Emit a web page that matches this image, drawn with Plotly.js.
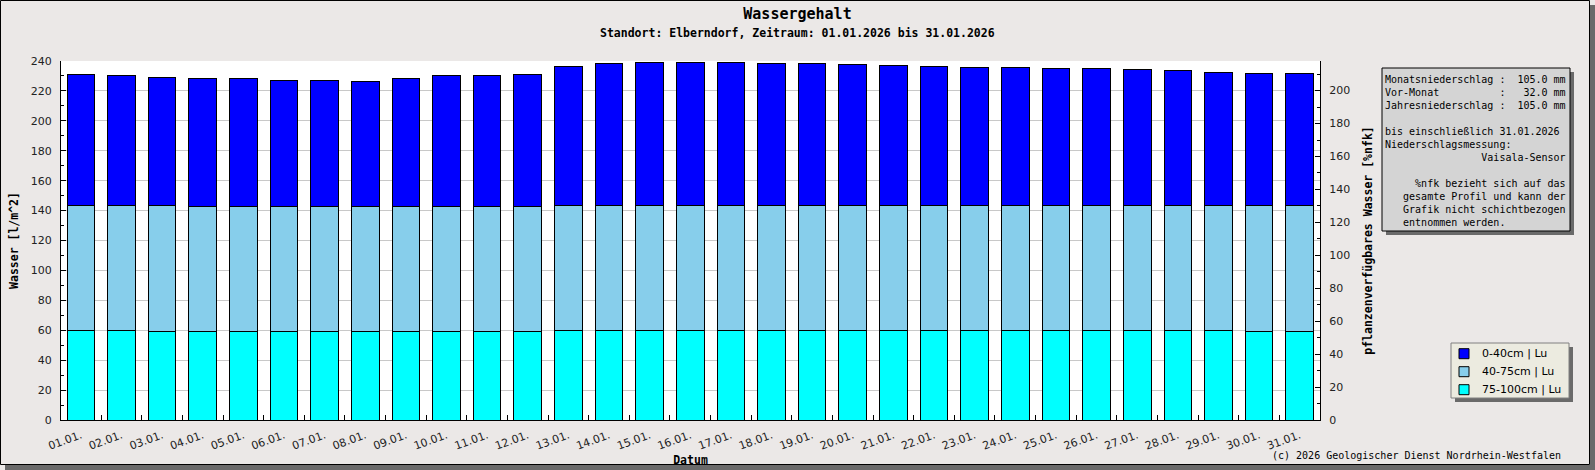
<!DOCTYPE html>
<html>
<head>
<meta charset="utf-8">
<script src="https://cdn.plot.ly/plotly-3.0.1.min.js"></script>
<style>
  html, body { margin: 0; padding: 0; background: #ebe8e7; }
  #chart { width: 1595px; height: 470px; }
</style>
</head>
<body>
<div id="chart"></div>
<script>
const dates = [
    '01.01.', '02.01.', '03.01.', '04.01.', '05.01.', '06.01.', '07.01.', '08.01.',
    '09.01.', '10.01.', '11.01.', '12.01.', '13.01.', '14.01.', '15.01.', '16.01.',
    '17.01.', '18.01.', '19.01.', '20.01.', '21.01.', '22.01.', '23.01.', '24.01.',
    '25.01.', '26.01.', '27.01.', '28.01.', '29.01.', '30.01.', '31.01.'
];

// water per layer in l/m^2 (stacked bottom -> top)
const water75to100 = [
    60.0, 60.0, 59.3, 59.3, 59.3, 59.3, 59.3, 59.3, 59.3, 59.3, 59.3, 59.3,
    60.0, 60.0, 60.0, 60.0, 60.0, 60.0, 60.0, 60.0, 60.0, 60.0, 60.0, 60.0,
    60.0, 60.0, 60.0, 60.0, 60.0, 59.4, 59.4
];
const water40to75 = [
    83.4, 83.4, 84.1, 83.5, 83.5, 83.5, 83.5, 83.5, 83.5, 83.5, 83.5, 83.5,
    83.4, 83.4, 83.4, 83.4, 83.4, 83.4, 83.4, 83.4, 83.4, 83.4, 83.4, 83.4,
    83.4, 83.4, 83.4, 83.4, 83.4, 84.0, 84.0
];
const water0to40 = [
    87.3, 86.6, 85.9, 85.2, 85.2, 84.5, 84.5, 83.8, 85.2, 87.2, 87.2, 87.9,
    92.8, 94.8, 95.5, 95.5, 95.5, 94.8, 94.8, 94.1, 93.5, 92.8, 92.1, 92.1,
    91.4, 91.4, 90.7, 90.0, 88.7, 88.0, 88.0
];

const layerNames = ['0-40cm | Lu', '40-75cm | Lu', '75-100cm | Lu'];
const layerColors = ['#0000ff', '#87ceeb', '#00ffff'];

const infoLines = [
    'Monatsniederschlag :  105.0 mm',
    'Vor-Monat          :   32.0 mm',
    'Jahresniederschlag :  105.0 mm',
    '',
    'bis einschließlich 31.01.2026',
    'Niederschlagsmessung:',
    '                Vaisala-Sensor',
    '',
    '     %nfk bezieht sich auf das',
    '   gesamte Profil und kann der',
    '   Grafik nicht schichtbezogen',
    '   entnommen werden.'
];

const MONO = 'DejaVu Sans Mono';
const SANS = 'DejaVu Sans';

// plot area in pixels
const W = 1595, H = 470;
const PL = 61, PR = 1320, PT = 61, PB = 420;

function px(x) { return (x - PL) / (PR - PL); }
function py(y) { return (PB - y) / (PB - PT); }

function box(x0, y0, x1, y1, fill, line) {
    return {
        type: 'rect', xref: 'paper', yref: 'paper',
        x0: px(x0), x1: px(x1), y0: py(y0), y1: py(y1),
        fillcolor: fill,
        line: line ? { color: line, width: 1 } : { width: 0 },
        layer: 'above'
    };
}

function nbsp(s) { return s.replace(/ /g, '\u00a0'); }

const traces = [
    { y: water75to100, name: layerNames[2], color: layerColors[2] },
    { y: water40to75, name: layerNames[1], color: layerColors[1] },
    { y: water0to40, name: layerNames[0], color: layerColors[0] }
].map(t => ({
    x: dates,
    y: t.y,
    type: 'bar',
    name: t.name,
    marker: { color: t.color, line: { color: '#000', width: 1 } },
    hoverinfo: 'x+y+name'
}));

// empty helper so the %nfk axis on the right gets drawn
traces.push({
    x: [dates[0]],
    y: [null],
    yaxis: 'y2',
    type: 'scatter',
    mode: 'markers',
    showlegend: false,
    hoverinfo: 'skip'
});

const shapes = [
    // outer frame + shadow
    box(1590, 5, 1595, 470, '#6a6a6a'),
    box(5, 465, 1595, 470, '#6a6a6a'),
    box(0.5, 0.5, 1589.5, 464.5, 'rgba(0,0,0,0)', '#000'),
    // info box
    box(1386, 72, 1574, 235, '#6a6a6a'),
    box(1382, 68, 1570, 231, '#d4d4d4', '#000'),
    // legend box
    box(1455, 347, 1573, 402, '#6a6a6a'),
    box(1451, 343, 1569, 398, '#ecebe0', '#808080')
];

const annotations = [
    {
        text: '<b>Standort: Elberndorf, Zeitraum: 01.01.2026 bis 31.01.2026</b>',
        xref: 'paper', yref: 'paper', x: px(797.5), y: py(33),
        xanchor: 'center', yanchor: 'middle', showarrow: false,
        font: { family: MONO, size: 11.5, color: '#000' }
    },
    {
        text: infoLines.map(nbsp).join('<br>'),
        xref: 'paper', yref: 'paper', x: px(1383), y: py(72),
        xanchor: 'left', yanchor: 'top', align: 'left', showarrow: false,
        font: { family: MONO, size: 10, color: '#000' }
    },
    {
        text: nbsp('(c) 2026 Geologischer Dienst Nordrhein-Westfalen'),
        xref: 'paper', yref: 'paper', x: px(1563), y: py(455),
        xanchor: 'right', yanchor: 'middle', showarrow: false,
        font: { family: MONO, size: 10, color: '#000' }
    }
];

// custom legend
for (let i = 0; i < layerNames.length; i++) {
    const cy = 353.7 + i * 18;
    shapes.push(box(1459, cy - 5, 1469, cy + 5, layerColors[i], '#000'));
    annotations.push({
        text: layerNames[i],
        xref: 'paper', yref: 'paper', x: px(1480), y: py(cy),
        xanchor: 'left', yanchor: 'middle', showarrow: false,
        font: { family: SANS, size: 11, color: '#000' }
    });
}

const tickFont = { family: SANS, size: 11, color: '#222' };
const titleFont = { family: MONO, size: 11.5, color: '#000', weight: 'bold' };

const layout = {
    width: W,
    height: H,
    margin: { l: PL, r: W - PR, t: PT, b: H - PB, pad: 0 },
    paper_bgcolor: '#ebe8e7',
    plot_bgcolor: '#ffffff',
    barmode: 'stack',
    bargap: 0.32,
    showlegend: false,
    title: {
        text: 'Wassergehalt',
        font: { family: MONO, size: 15, color: '#000', weight: 'bold' },
        x: 0.5, xref: 'container', xanchor: 'center',
        y: 1 - 14 / H, yref: 'container', yanchor: 'middle'
    },
    xaxis: {
        type: 'category',
        range: [-0.49, 30.5],
        tickson: 'boundaries',
        ticks: 'inside',
        ticklen: 5,
        tickcolor: '#000',
        tickangle: -20,
        tickfont: tickFont,
        ticklabelstandoff: 4,
        showline: true,
        linecolor: '#000',
        linewidth: 1,
        showgrid: false,
        zeroline: false,
        title: { text: 'Datum', font: titleFont, standoff: 1 }
    },
    yaxis: {
        range: [0, 240],
        dtick: 20,
        ticks: 'inside',
        ticklen: 5,
        tickcolor: '#000',
        tickfont: tickFont,
        ticklabelstandoff: 6,
        minor: { dtick: 10, ticks: 'inside', ticklen: 3, tickcolor: '#000', showgrid: false },
        showline: true,
        linecolor: '#000',
        linewidth: 1,
        showgrid: true,
        gridcolor: '#c8c8c8',
        zeroline: false,
        title: { text: 'Wasser [l/m^2]', font: titleFont, standoff: 9 }
    },
    yaxis2: {
        overlaying: 'y',
        side: 'right',
        range: [0, 218],
        dtick: 20,
        ticks: 'inside',
        ticklen: 5,
        tickcolor: '#000',
        tickfont: tickFont,
        ticklabelstandoff: 6,
        minor: { dtick: 10, ticks: 'inside', ticklen: 3, tickcolor: '#000', showgrid: false },
        showline: true,
        linecolor: '#000',
        linewidth: 1,
        showgrid: false,
        zeroline: false,
        title: { text: 'pflanzenverfügbares Wasser [%nfk]', font: titleFont, standoff: 14 }
    },
    shapes: shapes,
    annotations: annotations
};

Plotly.newPlot('chart', traces, layout, { displayModeBar: false, staticPlot: true });
</script>
</body>
</html>
